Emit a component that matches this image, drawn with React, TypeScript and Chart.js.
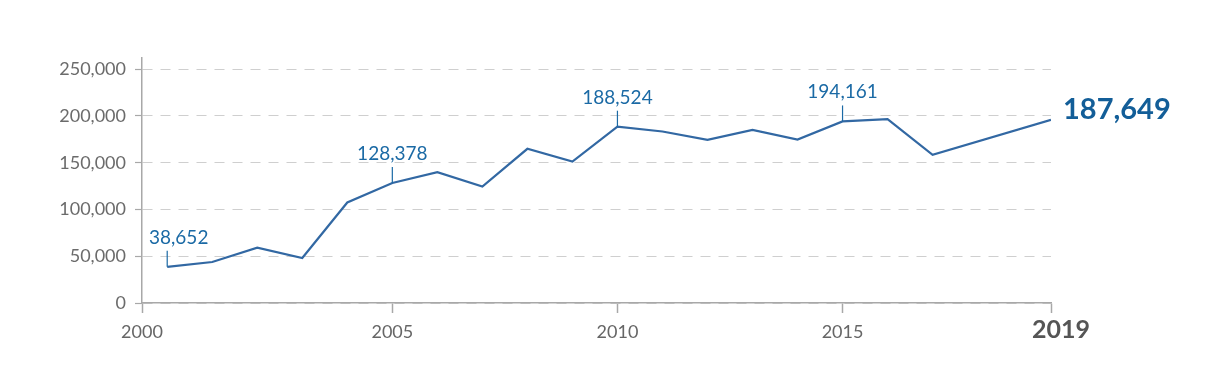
import React, { useEffect, useRef } from "react";
import { Chart, registerables } from "chart.js";

Chart.register(...registerables);

// ---- data ----
const years: number[] = [2000, 2001, 2002, 2003, 2004, 2005, 2006, 2007, 2008, 2009, 2010, 2011, 2012, 2013, 2014, 2015, 2016, 2017, 2019];
const values: number[] = [38652, 43800, 59100, 48100, 107500, 128378, 140000, 124600, 164900, 151300, 188524, 183400, 174500, 185100, 174800, 194161, 196600, 158400, 195800];
const annotatedYears: number[] = [2000, 2005, 2010, 2015];
const headlineValue = 187649;
const xTickLabels: string[] = ["2000", "2005", "2010", "2015", "2019"];
const xTickYears: number[] = [2000, 2005, 2010, 2015, 2019];
const yTicks: number[] = [0, 50000, 100000, 150000, 200000, 250000];

// axis range (reference axis starts a little before 2000 and the latest point is pinned to its end)
const X_MIN = 1999.44;
const X_MAX = 2019.63;
const Y_MAX = 262000;

const LINE_COLOR = "#3268a3";
const ANNOT_COLOR = "#1b6aa5";
const HEAD_COLOR = "#135e98";
const FONT = "Lato, 'Open Sans', sans-serif";

const fmt = (v: number) => v.toLocaleString("en-US");
const lastYear = years[years.length - 1];
const plotX = (y: number) => (y === lastYear ? X_MAX : y);
const tickPos = (y: number, i: number) => (i === 0 ? X_MIN : y === lastYear ? X_MAX : y);

const annotPlugin = {
  id: "annot",
  afterDatasetsDraw(chart: any) {
    const { ctx, chartArea } = chart;
    const xs = chart.scales.x;
    const ys = chart.scales.y;
    ctx.save();
    ctx.font = `400 19px ${FONT}`;
    ctx.textBaseline = "alphabetic";
    annotatedYears.forEach((yr) => {
      const idx = years.indexOf(yr);
      if (idx < 0) return;
      const px = xs.getPixelForValue(plotX(yr));
      const py = ys.getPixelForValue(values[idx]);
      ctx.strokeStyle = ANNOT_COLOR;
      ctx.lineWidth = 1.2;
      ctx.beginPath();
      ctx.moveTo(px, py);
      ctx.lineTo(px, py - 16);
      ctx.stroke();
      const text = fmt(values[idx]);
      const w = ctx.measureText(text).width;
      let left = px - w / 2;
      if (left < chartArea.left + 7) left = chartArea.left + 7;
      ctx.fillStyle = ANNOT_COLOR;
      ctx.textAlign = "left";
      ctx.fillText(text, left, py - 23);
    });
    const li = years.length - 1;
    const ex = xs.getPixelForValue(plotX(years[li]));
    const ey = ys.getPixelForValue(values[li]);
    ctx.font = `bold 29px ${FONT}`;
    ctx.fillStyle = HEAD_COLOR;
    ctx.textAlign = "left";
    ctx.fillText(fmt(headlineValue), ex + 12, ey - 1);
    ctx.font = `bold 25px ${FONT}`;
    ctx.fillStyle = "#555555";
    ctx.textAlign = "center";
    ctx.fillText(xTickLabels[xTickLabels.length - 1], xs.getPixelForValue(X_MAX) + 10, 338);
    ctx.restore();
  },
};

export default function App() {
  const ref = useRef<HTMLCanvasElement | null>(null);
  useEffect(() => {
    document.body.style.margin = "0";
    const canvas = ref.current;
    if (!canvas) return;
    const data = years.map((y, i) => ({ x: plotX(y), y: values[i] }));
    const chart = new Chart(canvas, {
      type: "line",
      data: {
        datasets: [
          {
            data,
            borderColor: LINE_COLOR,
            borderWidth: 2.2,
            pointRadius: 0,
            tension: 0,
            fill: false,
          },
        ],
      },
      options: {
        animation: false,
        responsive: false,
        maintainAspectRatio: false,
        layout: { padding: { top: 58, right: 163, left: 0, bottom: 0 } },
        plugins: { legend: { display: false }, tooltip: { enabled: false } },
        scales: {
          x: {
            type: "linear",
            min: X_MIN,
            max: X_MAX,
            afterBuildTicks: (scale: any) => {
              scale.ticks = xTickYears.map((y, i) => ({ value: tickPos(y, i) }));
            },
            afterFit: (scale: any) => {
              scale.height = 69;
            },
            ticks: {
              autoSkip: false,
              maxRotation: 0,
              padding: 8,
              color: "#666666",
              font: { family: FONT, size: 18, weight: "400" as any },
              callback: (_v: any, i: number) => (i === xTickLabels.length - 1 ? "" : xTickLabels[i]),
            },
            grid: {
              drawOnChartArea: false,
              drawTicks: true,
              tickLength: 10,
              tickColor: "#a8a8a8",
              tickWidth: 1.5,
            },
            border: { display: true, color: "#a8a8a8", width: 1.5 },
          },
          y: {
            type: "linear",
            min: 0,
            max: Y_MAX,
            afterBuildTicks: (scale: any) => {
              scale.ticks = yTicks.map((v) => ({ value: v }));
            },
            afterFit: (scale: any) => {
              scale.width = 142;
            },
            ticks: {
              padding: 9,
              color: "#6b6b6b",
              font: { family: FONT, size: 18, weight: "400" as any },
              callback: (v: any) => fmt(Number(v)),
            },
            grid: {
              drawOnChartArea: true,
              drawTicks: true,
              tickLength: 7,
              color: "#cfcfcf",
              lineWidth: 1,
              tickColor: "#a8a8a8",
              tickWidth: 1.2,
              tickBorderDash: [],
            },
            border: { display: true, color: "#a8a8a8", width: 1.5, dash: [10, 8] },
          },
        },
      },
      plugins: [annotPlugin],
    });
    return () => chart.destroy();
  }, []);
  return (
    <div style={{ width: 1214, height: 372 }}>
      <canvas ref={ref} width={1214} height={372} style={{ display: "block", width: 1214, height: 372 }} />
    </div>
  );
}
